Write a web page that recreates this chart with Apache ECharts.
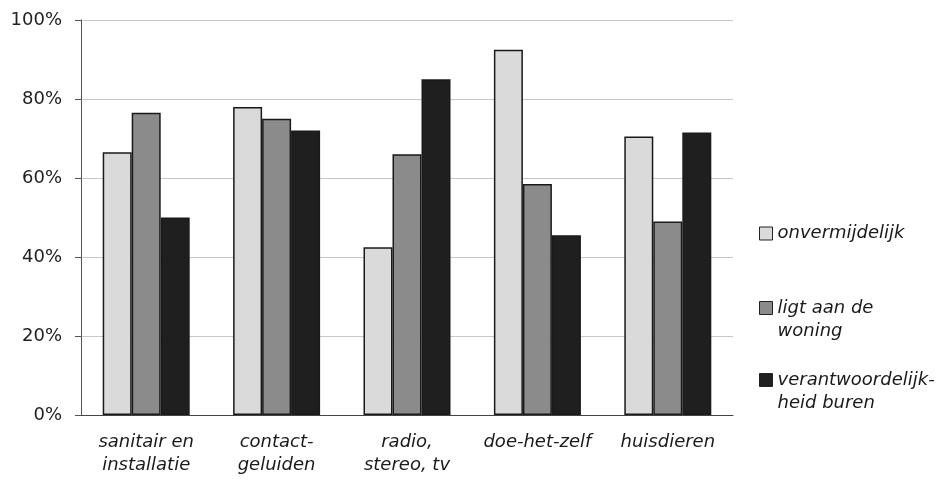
<!DOCTYPE html>
<html>
<head>
<meta charset="utf-8">
<script src="https://cdn.jsdelivr.net/npm/echarts@6/dist/echarts.min.js"></script>
<style>
html,body{margin:0;padding:0;background:#fff;}
#c{width:951px;height:487px;}
</style>
</head>
<body>
<div id="c"></div>
<script>
var categories = ['sanitair en\ninstallatie', 'contact-\ngeluiden', 'radio,\nstereo, tv', 'doe-het-zelf', 'huisdieren'];
var seriesNames = ['onvermijdelijk', 'ligt aan de\nwoning', 'verantwoordelijk-\nheid buren'];
var onvermijdelijk = [66.5, 78, 42.5, 92.5, 70.5];
var ligtAanDeWoning = [76.5, 75, 66, 58.5, 49];
var verantwoordelijkheidBuren = [50, 72, 85, 45.5, 71.5];
var yTicks = [0, 20, 40, 60, 80, 100];

var FONT = 'DejaVu Sans';
var colors = ['#dadada', '#8b8b8b', '#1f1f1f'];
var values = [onvermijdelijk, ligtAanDeWoning, verantwoordelijkheidBuren];

var chart = echarts.init(document.getElementById('c'), null, {renderer: 'canvas'});

function legendFor(i, top, twoLine) {
  return {
    orient: 'vertical',
    left: 759,
    top: top,
    padding: 0,
    itemWidth: 13,
    itemHeight: 13,
    itemGap: 0,
    icon: 'rect',
    selectedMode: false,
    data: [seriesNames[i]],
    formatter: function (name) { return twoLine ? '\n' + name : name; },
    itemStyle: {borderColor: '#222', borderWidth: 1},
    textStyle: {
      fontFamily: FONT, fontStyle: 'italic', fontSize: 18, color: '#1a1a1a',
      lineHeight: 23
    }
  };
}

var option = {
  backgroundColor: '#ffffff',
  animation: false,
  grid: {left: 81, right: 218, top: 20, bottom: 72},
  legend: [
    legendFor(0, 222, false),
    legendFor(1, 273.5, true),
    legendFor(2, 345.5, true)
  ],
  xAxis: {
    type: 'category',
    data: categories,
    axisLine: {show: true, lineStyle: {color: '#444', width: 1}},
    axisTick: {show: false},
    axisLabel: {
      fontFamily: FONT, fontStyle: 'italic', fontSize: 18, color: '#1a1a1a',
      lineHeight: 23, margin: 16, interval: 0
    }
  },
  yAxis: {
    type: 'value',
    min: yTicks[0],
    max: yTicks[yTicks.length - 1],
    interval: 20,
    axisLine: {show: true, lineStyle: {color: '#555', width: 1}},
    axisTick: {show: true, length: 6, lineStyle: {color: '#555'}},
    splitLine: {show: true, lineStyle: {color: '#c8c8c8', width: 1}},
    axisLabel: {
      fontFamily: FONT, fontSize: 18, color: '#222', margin: 19,
      formatter: function (v) { return v + '%'; }
    }
  },
  series: values.map(function (arr, i) {
    return {
      name: seriesNames[i],
      type: 'bar',
      data: arr,
      barWidth: 29,
      barGap: '0%',
      itemStyle: {color: colors[i], borderColor: '#1a1a1a', borderWidth: 1.5}
    };
  })
};
chart.setOption(option);
</script>
</body>
</html>
